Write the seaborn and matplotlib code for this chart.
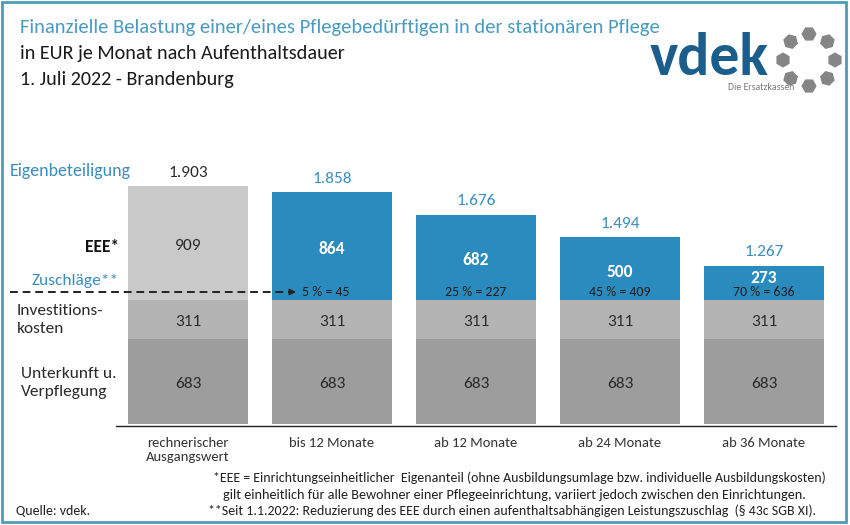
import math
import matplotlib
matplotlib.use('Agg')
import matplotlib.pyplot as plt
import seaborn as sns
import pandas as pd
from matplotlib.patches import Rectangle, RegularPolygon
from matplotlib.transforms import IdentityTransform

# ------------------ DATA ------------------
categories = ["rechnerischer\nAusgangswert", "bis 12 Monate", "ab 12 Monate", "ab 24 Monate", "ab 36 Monate"]
unterkunft = [683, 683, 683, 683, 683]
investition = [311, 311, 311, 311, 311]
eee = [909, 864, 682, 500, 273]
totals = [1903, 1858, 1676, 1494, 1267]
zuschlag_labels = ["", "5 % = 45", "25 % = 227", "45 % = 409", "70 % = 636"]

# ------------------ STYLE ------------------
W, H = 850, 525
LIGHT = '#c9c9c9'
MID = '#b3b3b3'
DARK = '#9d9d9d'
BLUE = '#2a8bbf'
TITLE_BLUE = '#4b9bc0'
TEXT = '#2a2a2a'

sns.set_style('white')
plt.rcParams['font.family'] = ['Carlito', 'DejaVu Sans']


def fx(x):
    return x / W


def fy(y):
    return 1 - y / H


df = pd.DataFrame({'kategorie': categories, 'unterkunft': unterkunft,
                   'investition': investition, 'eee': eee})
df['bis_invest'] = df['unterkunft'] + df['investition']
df['gesamt'] = df['bis_invest'] + df['eee']

fig = plt.figure(figsize=(8.5, 5.25), dpi=100)
ax = fig.add_axes([fx(116), fy(426), 720 / W, 276 / H])

# stacked bars: full height first, then the lower layers on top
sns.barplot(data=df, x='kategorie', y='gesamt', hue='kategorie', palette=[LIGHT] + [BLUE] * 4,
            saturation=1, width=0.84, legend=False, errorbar=None, linewidth=0, ax=ax)
sns.barplot(data=df, x='kategorie', y='bis_invest', color=MID, saturation=1, width=0.84,
            errorbar=None, linewidth=0, ax=ax)
sns.barplot(data=df, x='kategorie', y='unterkunft', color=DARK, saturation=1, width=0.84,
            errorbar=None, linewidth=0, ax=ax)

ax.set_xlim(-0.5, 4.5)
ax.set_ylim(-16, 2192)
ax.set_xlabel('')
ax.set_ylabel('')
ax.set_yticks([])
for s in ['top', 'right', 'left']:
    ax.spines[s].set_visible(False)
ax.spines['bottom'].set_color('#222222')
ax.spines['bottom'].set_linewidth(1)
ax.set_xticks(range(len(categories)))
ax.set_xticklabels(categories, fontsize=10.5, color='#333333', linespacing=1.15)
ax.set_xticks([i - 0.5 for i in range(len(categories) + 1)], minor=True)
ax.tick_params(axis='x', which='major', length=0, pad=8)
ax.tick_params(axis='x', which='minor', length=3.5, width=1, color='#222222', direction='out')

# labels inside / above the bars
for i in range(len(categories)):
    base = unterkunft[i] + investition[i]
    ax.text(i, unterkunft[i] / 2 - 20, str(unterkunft[i]), ha='center', va='center',
            fontsize=12.5, color=TEXT)
    ax.text(i, unterkunft[i] + investition[i] / 2 - 25, str(investition[i]), ha='center',
            va='center', fontsize=12.5, color=TEXT)
    y_eee = max(base + eee[i] / 2 - 25, base + 172)
    if i == 0:
        ax.text(i, y_eee, str(eee[i]), ha='center', va='center', fontsize=12.5, color=TEXT)
    else:
        ax.text(i, y_eee, str(eee[i]), ha='center', va='center', fontsize=12.5,
                color='white', fontweight='bold')
        ax.text(i - (0.04 if i == 1 else 0), base + 62, zuschlag_labels[i], ha='center',
                va='center', fontsize=10, color='#1e1e1e')
    ax.annotate(f"{totals[i]:,}".replace(',', '.'), (i, df['gesamt'][i]), xytext=(0, 9.5),
                textcoords='offset points', ha='center', va='center', fontsize=12.5,
                color=TEXT if i == 0 else '#3a8dbd')

# dashed Zuschlag pointer
y_z = unterkunft[1] + investition[1] + 62
ax.plot([-1.236, 0.70], [y_z, y_z], ls=(0, (4, 2.5)), color='#222222', lw=1.4, clip_on=False)
ax.annotate('', xy=(0.77, y_z), xytext=(0.68, y_z), annotation_clip=False,
            arrowprops=dict(arrowstyle='-|>', color='#222222', lw=1.2, mutation_scale=9))

# ------------------ TEXTS ------------------
fig.text(fx(20), fy(28), "Finanzielle Belastung einer/eines Pflegebedürftigen in der stationären Pflege",
         fontsize=14.8, color=TITLE_BLUE, va='center')
fig.text(fx(20), fy(53), "in EUR je Monat nach Aufenthaltsdauer", fontsize=14.5, color='#1a1a1a', va='center')
fig.text(fx(20), fy(79), "1. Juli 2022 - Brandenburg", fontsize=14.5, color='#1a1a1a', va='center')

fig.text(fx(10), fy(171), "Eigenbeteiligung", fontsize=13, color='#3a8dbd', va='center')
fig.text(fx(119), fy(247), "EEE*", fontsize=12.5, color='#111111', va='center', ha='right',
         fontweight='bold')
fig.text(fx(119), fy(281), "Zuschläge**", fontsize=12.5, color='#3a8dbd', va='center', ha='right')
fig.text(fx(17), fy(320), "Investitions-\nkosten", fontsize=12.5, color=TEXT, va='center',
         linespacing=1.35)
fig.text(fx(21), fy(383), "Unterkunft u.\nVerpflegung", fontsize=12.5, color=TEXT, va='center',
         linespacing=1.35)

fig.text(fx(213), fy(478), "*EEE = Einrichtungseinheitlicher  Eigenanteil (ohne Ausbildungsumlage bzw. "
         "individuelle Ausbildungskosten)", fontsize=10, color='#222222', va='center')
fig.text(fx(223), fy(495), "gilt einheitlich für alle Bewohner einer Pflegeeinrichtung, variiert jedoch "
         "zwischen den Einrichtungen.", fontsize=10.2, color='#222222', va='center')
fig.text(fx(208), fy(511), "**Seit 1.1.2022: Reduzierung des EEE durch einen aufenthaltsabhängigen "
         "Leistungszuschlag  (§ 43c SGB XI).", fontsize=10, color='#222222', va='center')
fig.text(fx(16), fy(511), "Quelle: vdek.", fontsize=10, color='#222222', va='center')

# ------------------ LOGO ------------------
fig.text(fx(650), fy(75), "vdek", fontsize=43, fontweight='bold', color='#1b5e8c', va='baseline')
fig.text(fx(761), fy(88), "Die Ersatzkassen", fontsize=7, color='#7a7a7a', va='center', ha='center')
cx, cy = 809, H - 60
for k in range(8):
    ang = math.pi * 0.25 * k
    px = cx + 26 * math.cos(ang)
    py = cy + 26 * math.sin(ang)
    fig.patches.append(RegularPolygon((px, py), numVertices=6, radius=6.8, orientation=ang,
                                      color='#858585', transform=IdentityTransform(), figure=fig))

# frame
fig.patches.append(Rectangle((fx(1.5), fy(522)), fx(846) - fx(1.5), fy(1.5) - fy(522),
                             transform=fig.transFigure, fill=False, edgecolor='#4f9bb8',
                             linewidth=2, figure=fig))

plt.savefig('out.png', dpi=100)
